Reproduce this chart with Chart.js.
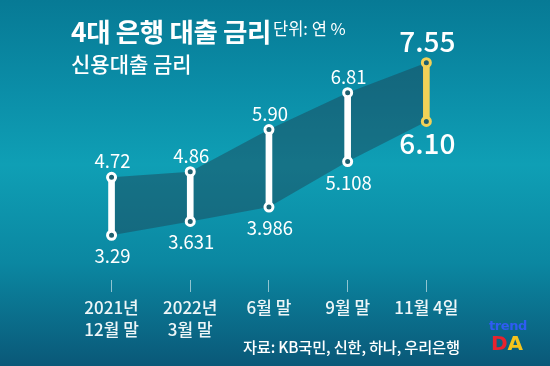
<!DOCTYPE html>
<html>
<head>
<meta charset="utf-8">
<script src="https://cdn.jsdelivr.net/npm/chart.js@4.4.1/dist/chart.umd.min.js"></script>
<style>
  html, body { margin: 0; padding: 0; }
  body { width: 550px; height: 366px; overflow: hidden; }
  #wrap {
    position: relative; width: 550px; height: 366px; overflow: hidden;
    background: linear-gradient(180deg, #077a95 0%, #0b8ea8 25%, #0f9fb5 45%, #0b87a1 72%, #0a5878 100%);
    font-family: "Noto Sans CJK KR", "Noto Sans", sans-serif; color: #fff;
  }
  #chart { position: absolute; left: 0; top: 0; }
  .t { position: absolute; white-space: nowrap; line-height: 1; }
  #title { left: 71px; top: 18px; font-size: 26.5px; font-weight: 700; letter-spacing: -0.4px; }
  #unit { left: 273px; top: 20px; font-size: 16.5px; font-weight: 400; }
  #sub { left: 71px; top: 53px; font-size: 21px; font-weight: 500; }
  #src { left: 243px; top: 339px; font-size: 15.3px; font-weight: 500; letter-spacing: -0.2px; }
  #logo1 { left: 489px; top: 319px; font-family: "DejaVu Sans", sans-serif; font-size: 13px; color: #2f5cf2; font-weight: 700; letter-spacing: -0.4px; }
  #logo2 { left: 491px; top: 333px; font-family: "DejaVu Sans", sans-serif; font-size: 20px; font-weight: 700; }
</style>
</head>
<body>
<div id="wrap">
  <canvas id="chart" width="550" height="366"></canvas>
  <div class="t" id="title">4대 은행 대출 금리</div>
  <div class="t" id="unit">단위: 연 %</div>
  <div class="t" id="sub">신용대출 금리</div>
  <div class="t" id="src">자료: KB국민, 신한, 하나, 우리은행</div>
  <div class="t" id="logo1">trend</div>
  <div class="t" id="logo2"><span style="color:#e8232e">D</span><span style="color:#f6c51d">A</span></div>
</div>
<script>
const categories = [['2021년', '12월 말'], ['2022년', '3월 말'], '6월 말', '9월 말', '11월 4일'];
const highRates = [4.72, 4.86, 5.90, 6.81, 7.55];
const lowRates = [3.29, 3.631, 3.986, 5.108, 6.10];
const highLabels = ['4.72', '4.86', '5.90', '6.81', '7.55'];
const lowLabels = ['3.29', '3.631', '3.986', '5.108', '6.10'];

const WHITE = '#ffffff';
const YELLOW = '#f3d157';
const lastIdx = categories.length - 1;
const markColors = categories.map((c, i) => i === lastIdx ? YELLOW : WHITE);

const valueLabels = {
  id: 'valueLabels',
  afterDatasetsDraw(chart) {
    const ctx = chart.ctx;
    const hi = chart.getDatasetMeta(0).data;
    const lo = chart.getDatasetMeta(1).data;
    ctx.save();
    ctx.fillStyle = '#ffffff';
    ctx.textAlign = 'center';
    ctx.textBaseline = 'middle';
    hi.forEach((p, i) => {
      const big = i === lastIdx;
      ctx.font = (big ? '500 28px' : '400 18.5px') + ' "Noto Sans CJK KR", "Noto Sans", sans-serif';
      ctx.fillText(highLabels[i], p.x + 1, p.y - (big ? 21 : 16));
    });
    lo.forEach((p, i) => {
      const big = i === lastIdx;
      ctx.font = (big ? '500 28px' : '400 18.5px') + ' "Noto Sans CJK KR", "Noto Sans", sans-serif';
      ctx.fillText(lowLabels[i], p.x + 1, p.y + (big ? 22 : 21));
    });
    ctx.restore();
  }
};

new Chart(document.getElementById('chart'), {
  type: 'line',
  data: {
    labels: categories,
    datasets: [
      {
        data: highRates,
        order: 0,
        fill: '+1',
        backgroundColor: 'rgba(30,62,80,0.45)',
        borderWidth: 0,
        borderColor: 'rgba(0,0,0,0)',
        tension: 0,
        pointRadius: 4,
        pointBorderWidth: 3,
        pointBorderColor: markColors,
        pointBackgroundColor: '#1f5f6e'
      },
      {
        data: lowRates,
        order: 0,
        fill: false,
        borderWidth: 0,
        borderColor: 'rgba(0,0,0,0)',
        tension: 0,
        pointRadius: 4,
        pointBorderWidth: 3,
        pointBorderColor: markColors,
        pointBackgroundColor: '#1f5f6e'
      },
      {
        type: 'bar',
        data: lowRates.map((l, i) => [l, highRates[i]]),
        order: 1,
        backgroundColor: markColors,
        borderWidth: 0,
        barThickness: 6,
        borderSkipped: false
      }
    ]
  },
  options: {
    responsive: false,
    devicePixelRatio: 1,
    animation: false,
    events: [],
    layout: { padding: { top: 20, left: 72.2, right: 84.3, bottom: 0 } },
    plugins: {
      legend: { display: false },
      tooltip: { enabled: false },
      filler: { drawTime: 'beforeDatasetsDraw' }
    },
    scales: {
      x: {
        type: 'category',
        offset: true,
        afterFit(scale) { scale.height = 86; },
        grid: {
          offset: false,
          drawOnChartArea: false,
          drawTicks: true,
          tickLength: 12,
          color: 'rgba(255,255,255,0.55)',
          lineWidth: 1
        },
        border: { display: false },
        ticks: {
          color: '#eef6f8',
          padding: 5,
          maxRotation: 0,
          autoSkip: false,
          font: { family: '"Noto Sans CJK KR", "Noto Sans", sans-serif', size: 17, weight: '500', lineHeight: 1.28 }
        }
      },
      y: {
        display: false,
        min: 2.185,
        max: 8.604
      }
    }
  },
  plugins: [valueLabels]
});
</script>
</body>
</html>
